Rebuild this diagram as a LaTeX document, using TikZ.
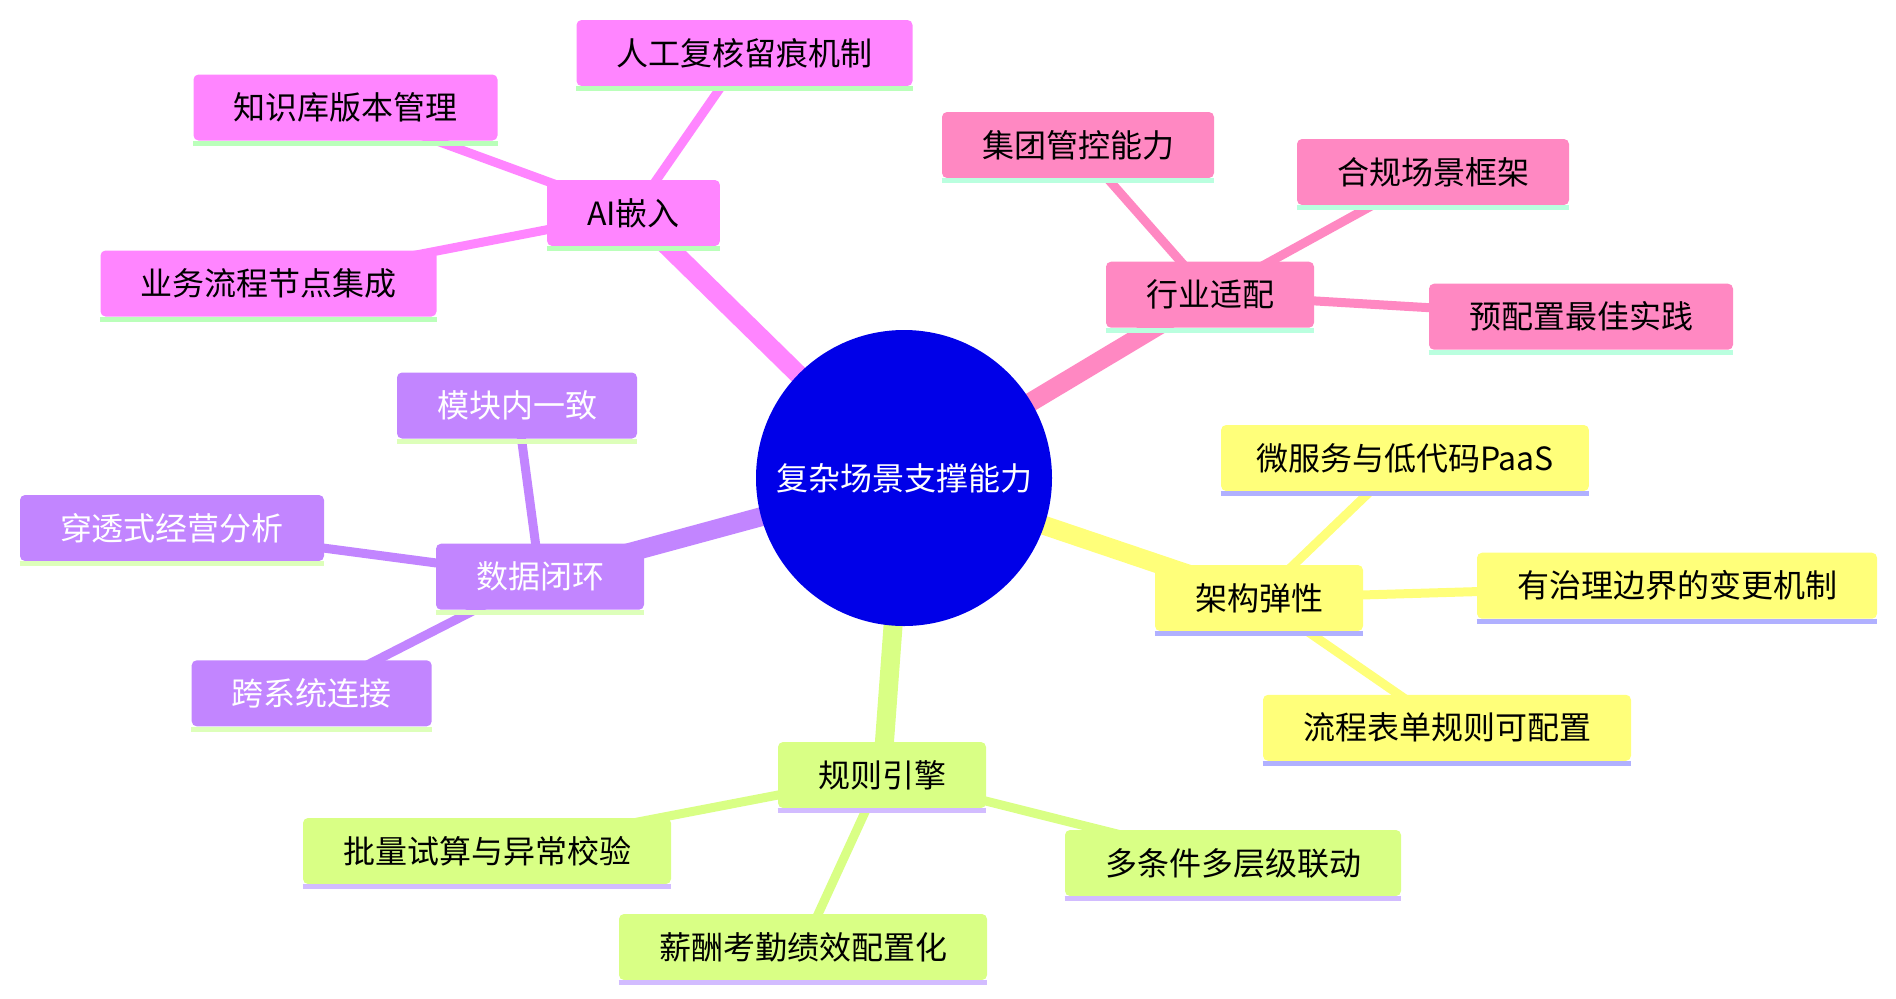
\documentclass[tikz,border=0pt]{standalone}
\usepackage{fontspec}
\newfontfamily\cjk{Noto Sans CJK SC}
\usepackage{xcolor}
\definecolor{cRoot}{HTML}{0000E8}
\definecolor{cAI}{HTML}{FF85FF}
\definecolor{cAILine}{HTML}{BAFFBA}
\definecolor{cInd}{HTML}{FF88C2}
\definecolor{cIndLine}{HTML}{BAFFDF}
\definecolor{cArch}{HTML}{FFFF7A}
\definecolor{cArchLine}{HTML}{B0B0FF}
\definecolor{cRule}{HTML}{D9FF85}
\definecolor{cRuleLine}{HTML}{D2BCFF}
\definecolor{cData}{HTML}{C285FF}
\definecolor{cDataLine}{HTML}{DDFFBA}
\usepackage{tikz}
\usetikzlibrary{backgrounds}
\tikzset{
  node-root/.style={circle,fill=cRoot,text=white,minimum size=148pt,
    inner sep=0pt,font=\cjk\fontsize{16}{19}\selectfont},
  node-box/.style={rounded corners=2.5pt,minimum height=33pt,inner xsep=20pt,
    inner ysep=0pt,font=\cjk\fontsize{16}{19}\selectfont},
  node-ai/.style={node-box,fill=cAI},
  node-ind/.style={node-box,fill=cInd},
  node-arch/.style={node-box,fill=cArch},
  node-rule/.style={node-box,fill=cRule},
  node-data/.style={node-box,fill=cData,text=white},
  % 根到分支粗，分支到叶子细
  edge-main/.style={line width=9.5pt},
  edge-leaf/.style={line width=4.5pt},
  under-line/.style={line width=2.5pt},
}
\begin{document}
\begin{tikzpicture}[x=0.5pt,y=-0.5pt]
  \useasboundingbox (0,0) rectangle (1896,998);
  \node[node-root] (root) at (904,478) {复杂场景支撑能力};
  % AI
  \node[node-ai] (ai) at (633.5,213) {AI嵌入};
  \node[node-ai] (ren) at (744.5,53) {人工复核留痕机制};
  \node[node-ai] (zhi) at (345.5,107.5) {知识库版本管理};
  \node[node-ai] (yewu) at (268.5,283.5) {业务流程节点集成};
  % 行业
  \node[node-ind] (ind) at (1210,294.7) {行业适配};
  \node[node-ind] (jituan) at (1078,145) {集团管控能力};
  \node[node-ind] (hegui) at (1433,172) {合规场景框架};
  \node[node-ind] (yupei) at (1581,316.7) {预配置最佳实践};
  % 架构
  \node[node-arch] (arch) at (1259,598) {架构弹性};
  \node[node-arch,inner xsep=17.5pt] (wei) at (1405,458) {微服务与低代码PaaS};
  \node[node-arch] (zhili) at (1677,585.7) {有治理边界的变更机制};
  \node[node-arch] (liucheng) at (1447,727.8) {流程表单规则可配置};
  % 规则
  \node[node-rule] (rule) at (882,775) {规则引擎};
  \node[node-rule] (piliang) at (487,851) {批量试算与异常校验};
  \node[node-rule] (duotiao) at (1233,863) {多条件多层级联动};
  \node[node-rule] (xinchou) at (803,947) {薪酬考勤绩效配置化};
  % 数据
  \node[node-data] (data) at (540,576.7) {数据闭环};
  \node[node-data] (mokuai) at (517,405.5) {模块内一致};
  \node[node-data] (chuantou) at (172,528) {穿透式经营分析};
  \node[node-data] (kua) at (311.7,693.3) {跨系统连接};

  \foreach \n/\c in {ai/cAILine,ren/cAILine,zhi/cAILine,yewu/cAILine,
      ind/cIndLine,jituan/cIndLine,hegui/cIndLine,yupei/cIndLine,
      arch/cArchLine,wei/cArchLine,zhili/cArchLine,liucheng/cArchLine,
      rule/cRuleLine,piliang/cRuleLine,duotiao/cRuleLine,xinchou/cRuleLine,
      data/cDataLine,mokuai/cDataLine,chuantou/cDataLine,kua/cDataLine}
    \draw[under-line,\c] ([yshift=-1.25pt]\n.south west) -- ([yshift=-1.25pt]\n.south east);

  \begin{pgfonlayer}{background}
    \draw[edge-main,cAI] (root.center) -- (ai.center);
    \draw[edge-main,cInd] (root.center) -- (ind.center);
    \draw[edge-main,cArch] (root.center) -- (arch.center);
    \draw[edge-main,cRule] (root.center) -- (rule.center);
    \draw[edge-main,cData] (root.center) -- (data.center);
    \foreach \n in {ren,zhi,yewu} \draw[edge-leaf,cAI] (ai.center) -- (\n.center);
    \foreach \n in {jituan,hegui,yupei} \draw[edge-leaf,cInd] (ind.center) -- (\n.center);
    \foreach \n in {wei,zhili,liucheng} \draw[edge-leaf,cArch] (arch.center) -- (\n.center);
    \foreach \n in {piliang,duotiao,xinchou} \draw[edge-leaf,cRule] (rule.center) -- (\n.center);
    \foreach \n in {mokuai,chuantou,kua} \draw[edge-leaf,cData] (data.center) -- (\n.center);
  \end{pgfonlayer}
\end{tikzpicture}
\end{document}
